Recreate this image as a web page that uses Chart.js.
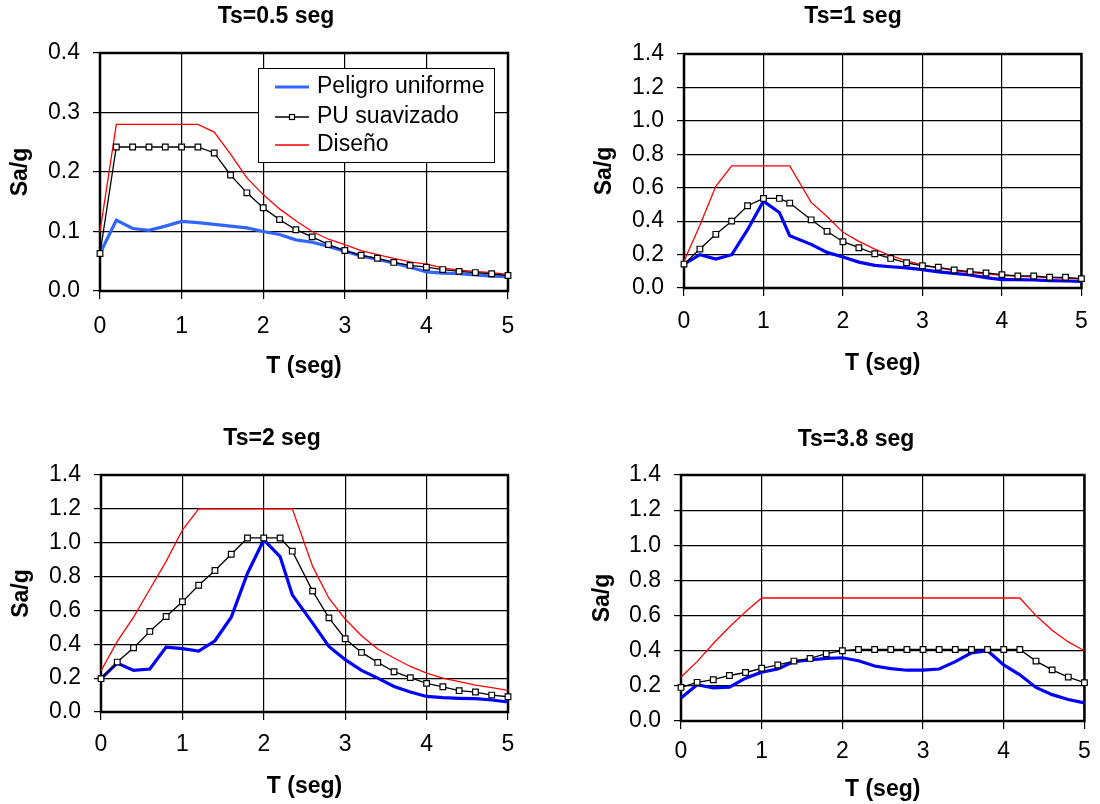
<!DOCTYPE html>
<html>
<head>
<meta charset="utf-8">
<script src="https://cdn.jsdelivr.net/npm/chart.js@4.4.0/dist/chart.umd.min.js"></script>
<style>
  body { margin: 0; background: #fff; }
  #wrap { position: relative; width: 1100px; height: 804px; overflow: hidden; }
  #wrap canvas { position: absolute; }
</style>
</head>
<body>
<div id="wrap">
  <canvas id="c1"></canvas>
  <canvas id="c2"></canvas>
  <canvas id="c3"></canvas>
  <canvas id="c4"></canvas>
</div>
<script>
// periods (s) used in each panel
const tRegular = [0, 0.2, 0.4, 0.6, 0.8, 1, 1.2, 1.4, 1.6, 1.8, 2, 2.2, 2.4, 2.6, 2.8, 3, 3.2, 3.4, 3.6, 3.8, 4, 4.2, 4.4, 4.6, 4.8, 5];
const tTs1 = [0, 0.2, 0.4, 0.6, 0.8, 1, 1.2, 1.33, 1.6, 1.8, 2, 2.2, 2.4, 2.6, 2.8, 3, 3.2, 3.4, 3.6, 3.8, 4, 4.2, 4.4, 4.6, 4.8, 5];
const tTs2 = [0, 0.2, 0.4, 0.6, 0.8, 1, 1.2, 1.4, 1.6, 1.8, 2, 2.2, 2.35, 2.6, 2.8, 3, 3.2, 3.4, 3.6, 3.8, 4, 4.2, 4.4, 4.6, 4.8, 5];

const seriesNames = ['Peligro uniforme', 'PU suavizado', 'Diseño'];
const xTicks = [0, 1, 2, 3, 4, 5];

// Ts = 0.5 seg
const pu05 = [0.063, 0.119, 0.105, 0.102, 0.109, 0.117, 0.115, 0.112, 0.109, 0.106, 0.100, 0.095, 0.086, 0.082, 0.075, 0.067, 0.059, 0.053, 0.047, 0.040, 0.032, 0.030, 0.029, 0.027, 0.025, 0.024];
const pus05 = [0.063, 0.242, 0.242, 0.242, 0.242, 0.242, 0.242, 0.232, 0.195, 0.165, 0.140, 0.120, 0.103, 0.091, 0.078, 0.068, 0.060, 0.055, 0.048, 0.043, 0.040, 0.036, 0.033, 0.031, 0.029, 0.026];
const dis05 = [0.100, 0.280, 0.280, 0.280, 0.280, 0.280, 0.280, 0.267, 0.230, 0.190, 0.162, 0.138, 0.118, 0.100, 0.087, 0.078, 0.068, 0.061, 0.055, 0.049, 0.045, 0.039, 0.035, 0.033, 0.031, 0.028];

// Ts = 1 seg
const pu1 = [0.143, 0.199, 0.173, 0.199, 0.349, 0.520, 0.452, 0.313, 0.261, 0.213, 0.185, 0.155, 0.135, 0.127, 0.120, 0.110, 0.096, 0.088, 0.078, 0.062, 0.050, 0.050, 0.048, 0.044, 0.042, 0.040];
const pus1 = [0.143, 0.233, 0.321, 0.400, 0.492, 0.536, 0.536, 0.508, 0.408, 0.339, 0.277, 0.241, 0.205, 0.177, 0.151, 0.133, 0.124, 0.108, 0.098, 0.090, 0.080, 0.072, 0.072, 0.064, 0.064, 0.056];
const dis1 = [0.160, 0.375, 0.608, 0.731, 0.731, 0.731, 0.731, 0.731, 0.512, 0.428, 0.333, 0.279, 0.233, 0.193, 0.163, 0.139, 0.120, 0.104, 0.092, 0.084, 0.076, 0.070, 0.066, 0.062, 0.058, 0.054];

// Ts = 2 seg
const pu2 = [0.197, 0.289, 0.246, 0.254, 0.383, 0.374, 0.360, 0.421, 0.560, 0.820, 1.017, 0.918, 0.692, 0.525, 0.387, 0.309, 0.246, 0.200, 0.151, 0.118, 0.092, 0.085, 0.081, 0.079, 0.071, 0.059];
const pus2 = [0.197, 0.295, 0.379, 0.476, 0.564, 0.651, 0.749, 0.836, 0.932, 1.028, 1.028, 1.028, 0.950, 0.714, 0.556, 0.433, 0.352, 0.293, 0.238, 0.203, 0.169, 0.149, 0.126, 0.118, 0.100, 0.090];
const dis2 = [0.244, 0.417, 0.560, 0.725, 0.890, 1.075, 1.200, 1.200, 1.200, 1.200, 1.200, 1.200, 1.200, 0.860, 0.672, 0.549, 0.450, 0.372, 0.319, 0.269, 0.230, 0.200, 0.179, 0.159, 0.144, 0.128];

// Ts = 3.8 seg
const pu38 = [0.131, 0.206, 0.188, 0.193, 0.244, 0.278, 0.296, 0.338, 0.347, 0.356, 0.360, 0.343, 0.313, 0.298, 0.289, 0.289, 0.296, 0.338, 0.388, 0.400, 0.319, 0.263, 0.191, 0.150, 0.122, 0.103];
const pus38 = [0.191, 0.220, 0.235, 0.259, 0.276, 0.300, 0.319, 0.341, 0.356, 0.383, 0.400, 0.407, 0.407, 0.407, 0.407, 0.407, 0.407, 0.407, 0.407, 0.407, 0.407, 0.407, 0.341, 0.291, 0.250, 0.218];
const dis38 = [0.250, 0.338, 0.441, 0.535, 0.622, 0.700, 0.700, 0.700, 0.700, 0.700, 0.700, 0.700, 0.700, 0.700, 0.700, 0.700, 0.700, 0.700, 0.700, 0.700, 0.700, 0.700, 0.600, 0.516, 0.450, 0.400];

Chart.defaults.font.family = "'Liberation Sans', Arial, sans-serif";
Chart.defaults.color = '#000';

const FS = 23;
const LH = FS * 1.2;

function pts(t, v) {
  return t.map((x, i) => ({ x: x, y: v[i] }));
}

// thick frame round the plot area
const framePlugin = {
  id: 'frame',
  beforeDatasetsDraw(chart) {
    const a = chart.chartArea, ctx = chart.ctx;
    ctx.save();
    ctx.strokeStyle = '#000';
    ctx.lineWidth = 2.5;
    ctx.strokeRect(a.left, a.top, a.right - a.left, a.bottom - a.top);
    ctx.restore();
  }
};

// Excel centres the title on the whole chart, not on the plot
const titleShift = {
  id: 'titleShift',
  afterLayout(chart, args, opts) {
    const tb = chart.titleBlock;
    if (!tb || opts.cx == null) return;
    const d = opts.cx - (tb.left + tb.right) / 2;
    tb.left += d;
    tb.right += d;
  }
};

// boxed legend inside the plot (first panel only)
const boxLegend = {
  id: 'boxLegend',
  afterDatasetsDraw(chart, args, o) {
    if (!o.box) return;
    const ctx = chart.ctx;
    const [x, y, w, h] = o.box;
    ctx.save();
    ctx.fillStyle = '#fff';
    ctx.fillRect(x, y, w, h);
    ctx.strokeStyle = '#000';
    ctx.lineWidth = 1;
    ctx.strokeRect(x + 0.5, y + 0.5, w, h);
    ctx.font = FS + "px 'Liberation Sans', Arial, sans-serif";
    ctx.textBaseline = 'middle';
    chart.data.datasets.forEach((ds, i) => {
      const ry = o.rows[i];
      ctx.strokeStyle = ds.borderColor;
      ctx.lineWidth = ds.borderWidth;
      ctx.beginPath();
      ctx.moveTo(o.line[0], ry);
      ctx.lineTo(o.line[1], ry);
      ctx.stroke();
      if (ds.pointRadius > 0) {
        const s = 5, cx = (o.line[0] + o.line[1]) / 2;
        ctx.fillStyle = '#fff';
        ctx.strokeStyle = '#000';
        ctx.lineWidth = 1.2;
        ctx.fillRect(cx - s / 2, ry - s / 2, s, s);
        ctx.strokeRect(cx - s / 2, ry - s / 2, s, s);
      }
      ctx.fillStyle = '#000';
      ctx.fillText(ds.label, o.textX, ry);
    });
    ctx.restore();
  }
};

const panels = [
  { id: 'c1', left: 0, top: 0, w: 550, h: 400, title: 'Ts=0.5 seg', yMax: 0.4, yStep: 0.1,
    plot: [100, 53, 508, 291], titleX: 276, titleY: 17, yTitleX: 21, xTitleY: 367, xLabY: 327,
    t: tRegular, s: [pu05, pus05, dis05], blue: '#3366ff',
    legend: { box: [258, 68, 236, 94], rows: [87, 117, 145], line: [275, 309], textX: 317 } },
  { id: 'c2', left: 550, top: 0, w: 550, h: 400, title: 'Ts=1 seg', yMax: 1.4, yStep: 0.2,
    plot: [684, 54, 1088, 288], titleX: 853, titleY: 17, yTitleX: 605, xTitleY: 364, xLabY: 322,
    t: tTs1, s: [pu1, pus1, dis1], blue: '#0000ff', legend: {} },
  { id: 'c3', left: 0, top: 400, w: 550, h: 404, title: 'Ts=2 seg', yMax: 1.4, yStep: 0.2,
    plot: [101, 475, 508, 712], titleX: 272, titleY: 439, yTitleX: 22, xTitleY: 787, xLabY: 745,
    t: tTs2, s: [pu2, pus2, dis2], blue: '#0000ff', legend: {} },
  { id: 'c4', left: 550, top: 400, w: 550, h: 404, title: 'Ts=3.8 seg', yMax: 1.4, yStep: 0.2,
    plot: [681, 475, 1092, 721], titleX: 856, titleY: 440, yTitleX: 603, xTitleY: 790, xLabY: 752,
    t: tRegular, s: [pu38, pus38, dis38], blue: '#0000ff', legend: {} }
];

function drawPanel(p) {
  const cv = document.getElementById(p.id);
  cv.width = p.w;
  cv.height = p.h;
  cv.style.left = p.left + 'px';
  cv.style.top = p.top + 'px';

  const pl = p.plot[0] - p.left, pt = p.plot[1] - p.top;
  const pr = p.plot[2] - p.left, pb = p.plot[3] - p.top;
  const titleTop = p.titleY - p.top - LH / 2;

  new Chart(cv, {
    type: 'line',
    data: {
      datasets: [
        { label: seriesNames[0], data: pts(p.t, p.s[0]), borderColor: p.blue, borderWidth: 3.2,
          pointRadius: 0, order: 2, clip: false },
        { label: seriesNames[1], data: pts(p.t, p.s[1]), borderColor: '#000', borderWidth: 1.3,
          pointStyle: 'rect', pointRadius: 4, pointBackgroundColor: '#fff',
          pointBorderColor: '#000', pointBorderWidth: 1.2, order: 0, clip: false },
        { label: seriesNames[2], data: pts(p.t, p.s[2]), borderColor: '#ff0000', borderWidth: 1.3,
          pointRadius: 0, order: 1, clip: false }
      ]
    },
    options: {
      responsive: false,
      animation: false,
      events: [],
      layout: { padding: { left: 0, top: 0, right: p.w - pr, bottom: 0 } },
      scales: {
        x: {
          type: 'linear', min: 0, max: 5,
          afterFit: s => { s.height = p.h - pb; },
          afterBuildTicks: s => { s.ticks = xTicks.map(v => ({ value: v })); },
          ticks: { font: { size: FS }, padding: p.xLabY - p.plot[3] - 8 - LH / 2, maxRotation: 0 },
          grid: { color: '#000', lineWidth: 1.2, tickLength: 8 },
          border: { display: false },
          title: { display: true, text: 'T (seg)', font: { size: FS, weight: 'bold' },
                   padding: { top: 0, bottom: p.h - LH / 2 - (p.xTitleY - p.top) } }
        },
        y: {
          min: 0, max: p.yMax,
          afterFit: s => { s.width = pl; },
          ticks: { stepSize: p.yStep, font: { size: FS }, padding: 13, callback: v => v.toFixed(1) },
          grid: { color: '#000', lineWidth: 1.2, tickLength: 7 },
          border: { display: false },
          title: { display: true, text: 'Sa/g', font: { size: FS, weight: 'bold' },
                   padding: { top: p.yTitleX - p.left - LH / 2, bottom: 0 } }
        }
      },
      plugins: {
        legend: { display: false },
        tooltip: { enabled: false },
        title: { display: true, text: p.title, color: '#000', font: { size: FS, weight: 'bold' },
                 padding: { top: titleTop, bottom: pt - titleTop - LH } },
        titleShift: { cx: p.titleX - p.left },
        boxLegend: p.legend
      }
    },
    plugins: [framePlugin, titleShift, boxLegend]
  });
}

panels.forEach(drawPanel);
</script>
</body>
</html>
